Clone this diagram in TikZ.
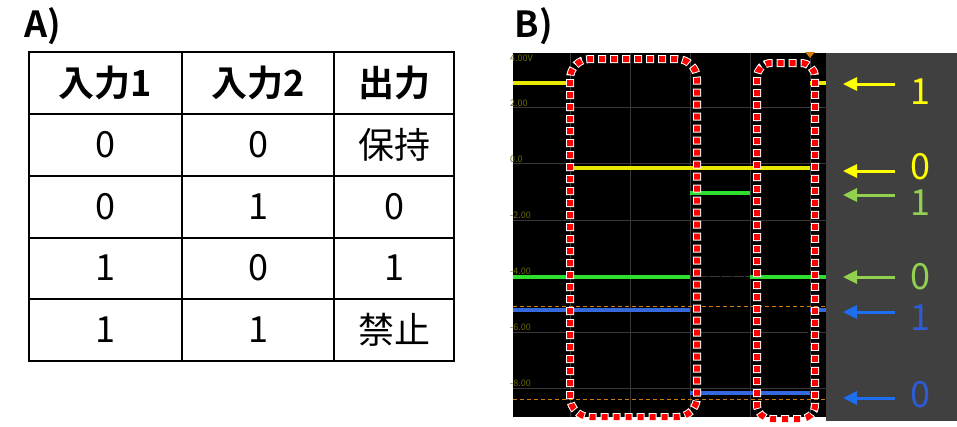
\documentclass[tikz,border=0pt]{standalone}
\usepackage{fontspec}
\newfontfamily\cjk{Noto Sans CJK JP}[BoldFont={Noto Sans CJK JP Bold}]
\usetikzlibrary{arrows.meta}
\definecolor{scopebg}{HTML}{000000}
\definecolor{panelgray}{HTML}{404040}
\definecolor{gridgray}{HTML}{383838}
\definecolor{scaleolive}{HTML}{6E6A00}
\definecolor{trigorange}{HTML}{D07A10}
\definecolor{tryellow}{HTML}{E8E800}
\definecolor{trgreen}{HTML}{2EE02E}
\definecolor{trblue}{HTML}{3568DC}
\definecolor{lbyellow}{HTML}{FFFF00}
\definecolor{lbgreen}{HTML}{92D050}
\definecolor{lbblue}{HTML}{2E5BD6}
\definecolor{arblue}{HTML}{1E6EF0}
\tikzstyle{panel} = [font=\cjk\bfseries\fontsize{36}{36}\selectfont, inner sep=0pt]
\tikzstyle{cell} = [font=\cjk\fontsize{36}{36}\selectfont, inner sep=0pt]
\tikzstyle{head} = [font=\cjk\bfseries\fontsize{36}{36}\selectfont, inner sep=0pt]
\tikzstyle{rule} = [line width=2pt]
\tikzstyle{scopegrid} = [draw=gridgray, line width=1pt]
\tikzstyle{voltlabel} = [font=\cjk\fontsize{9}{9}\selectfont, text=scaleolive, inner sep=0pt, anchor=west]
\tikzstyle{trace} = [line width=4pt]
\tikzstyle{trig} = [draw=trigorange, line width=1pt, dash pattern=on 4pt off 3pt]
\tikzstyle{boxwhite} = [draw=white, line width=8pt, dash pattern=on 8pt off 4pt]
\tikzstyle{boxred} = [draw=red, line width=6pt, dash pattern=on 6pt off 6pt, dash phase=11pt]
\tikzstyle{level} = [line width=3pt, -{Triangle[length=14pt,width=13pt]}]
\tikzstyle{lvl} = [font=\cjk\fontsize{36}{36}\selectfont, inner sep=0pt]

\begin{document}
\begin{tikzpicture}[x=1pt,y=-1pt]
    \useasboundingbox (0,0) rectangle (957,426);
    % panel labels
    \node (labA) [panel] at (43,26) {A)};
    \node (labB) [panel] at (534,26) {B)};

    % A) truth table
    \draw [rule] (29,52) rectangle (454,361);
    \foreach \y in {114,176,238,299}
        \draw [rule] (29,\y) -- (454,\y);
    \foreach \x in {182,334}
        \draw [rule] (\x,52) -- (\x,361);
    \node (h1) [head] at (105,83) {入力1};
    \node (h2) [head] at (258,83) {入力2};
    \node (h3) [head] at (394,83) {出力};
    \node (a1) [cell] at (105,145) {0};
    \node (b1) [cell] at (258,145) {0};
    \node (q1) [cell] at (394,145) {保持};
    \node (a2) [cell] at (105,207) {0};
    \node (b2) [cell] at (258,207) {1};
    \node (q2) [cell] at (394,207) {0};
    \node (a3) [cell] at (105,268) {1};
    \node (b3) [cell] at (258,268) {0};
    \node (q3) [cell] at (394,268) {1};
    \node (a4) [cell] at (105,330) {1};
    \node (b4) [cell] at (258,330) {1};
    \node (q4) [cell] at (394,330) {禁止};

    % B) oscilloscope screen
    \fill [scopebg] (513,53) rectangle (826,417);
    \fill [panelgray] (826,53) rectangle (957,421);
    \foreach \x in {570,630,690,750,810}
        \draw [scopegrid] (\x,53) -- (\x,417);
    \foreach \y in {107,163,220,276,332,388}
        \draw [scopegrid] (513,\y) -- (826,\y);
    \foreach \x in {516,528,...,826}
        \draw [draw=gridgray!160, line width=0.6pt] (\x,274) -- (\x,278);
    \foreach \y in {56,68,...,417}
        \draw [draw=gridgray!160, line width=0.6pt] (808,\y) -- (812,\y);
    \node (s1) [voltlabel] at (510,58) {4.00V};
    \node (s2) [voltlabel] at (510,103) {2.00};
    \node (s3) [voltlabel] at (510,159) {0.0};
    \node (s4) [voltlabel] at (510,215) {-2.00};
    \node (s5) [voltlabel] at (510,271) {-4.00};
    \node (s6) [voltlabel] at (510,327) {-6.00};
    \node (s7) [voltlabel] at (510,383) {-8.00};
    \draw [trig] (513,306) -- (826,306);
    \draw [trig] (513,399) -- (826,399);
    \fill [trigorange] (805,52) -- (815,52) -- (810,58) -- cycle;
    % traces
    \draw [trace, tryellow] (513,83) -- (570,83);
    \draw [trace, tryellow] (570,168) -- (810,168);
    \draw [trace, tryellow] (810,83) -- (826,83);
    \draw [trace, trgreen] (513,277) -- (690,277);
    \draw [trace, trgreen] (690,193) -- (750,193);
    \draw [trace, trgreen] (750,277) -- (826,277);
    \draw [trace, trblue] (513,310) -- (690,310);
    \draw [trace, trblue] (690,393) -- (810,393);
    \draw [trace, trblue] (810,310) -- (826,310);
    % marked windows
    \draw [boxwhite, rounded corners=20pt] (570,59) rectangle (697,417);
    \draw [boxred, rounded corners=20pt] (570,59) rectangle (697,417);
    \draw [boxwhite, rounded corners=14pt] (757,63) rectangle (815,419);
    \draw [boxred, rounded corners=14pt] (757,63) rectangle (815,419);

    % level arrows
    \foreach \n/\y in {y1/84,y0/171,g1/195,g0/277,b1/312,b0/398} {
        \coordinate (\n s) at (895,\y);
        \coordinate (\n e) at (843,\y);
    }
    \draw [level, lbyellow] (y1s) -- (y1e);
    \draw [level, lbyellow] (y0s) -- (y0e);
    \draw [level, lbgreen] (g1s) -- (g1e);
    \draw [level, lbgreen] (g0s) -- (g0e);
    \draw [level, arblue] (b1s) -- (b1e);
    \draw [level, arblue] (b0s) -- (b0e);
    \node (ly1) [lvl, text=lbyellow] at (920,92) {1};
    \node (ly0) [lvl, text=lbyellow] at (920,167) {0};
    \node (lg1) [lvl, text=lbgreen] at (920,203) {1};
    \node (lg0) [lvl, text=lbgreen] at (920,277) {0};
    \node (lb1) [lvl, text=lbblue] at (920,318) {1};
    \node (lb0) [lvl, text=lbblue] at (920,395) {0};
\end{tikzpicture}
\end{document}
